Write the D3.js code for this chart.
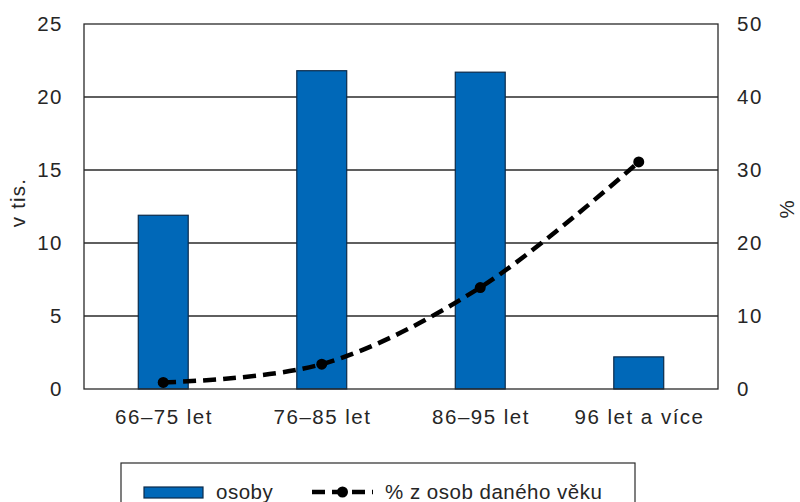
<!DOCTYPE html>
<html>
<head>
<meta charset="utf-8">
<script src="https://cdn.jsdelivr.net/npm/d3@7"></script>
<style>
  body { margin: 0; background: #fff; }
  text { font-family: "Liberation Sans", Arial, sans-serif; fill: #262626; }
</style>
</head>
<body>
<div id="wrapper"></div>
<script>
const categories = ["66–75 let", "76–85 let", "86–95 let", "96 let a více"];
const osoby = [11.9, 21.8, 21.7, 2.2];
const procenta = [0.9, 3.4, 13.9, 31.1];
const leftTicks = [0, 5, 10, 15, 20, 25];
const rightTicks = [0, 10, 20, 30, 40, 50];

function chart() {
  const fontSize = "20.5px";
  let dimensions = {
    width: 800,
    height: 502,
    margin: { top: 24, left: 84, bottom: 113, right: 82 }
  };
  dimensions.boundedWidth = dimensions.width - dimensions.margin.left - dimensions.margin.right;
  dimensions.boundedHeight = dimensions.height - dimensions.margin.top - dimensions.margin.bottom;

  const wrapper = d3.select("#wrapper").append("svg")
    .attr("width", dimensions.width)
    .attr("height", dimensions.height);
  const container = wrapper.append("g")
    .attr("transform", `translate(${dimensions.margin.left},${dimensions.margin.top})`);

  const xScale = d3.scaleBand()
    .domain(categories)
    .range([0, dimensions.boundedWidth])
    .padding(0);
  const barW = xScale.bandwidth() * 0.315;

  const yLeft = d3.scaleLinear().domain([0, 25]).range([dimensions.boundedHeight, 0]);
  const yRight = d3.scaleLinear().domain([0, 50]).range([dimensions.boundedHeight, 0]);

  // grid
  container.append("g")
    .selectAll("line")
    .data(leftTicks.slice(1, -1))
    .enter().append("line")
    .attr("x1", 0).attr("x2", dimensions.boundedWidth)
    .attr("y1", d => yLeft(d)).attr("y2", d => yLeft(d))
    .attr("stroke", "#2a2a2a").attr("stroke-width", 1.3);

  // bars
  container.selectAll("rect.bar")
    .data(osoby)
    .enter().append("rect")
    .attr("class", "bar")
    .attr("x", (d, i) => xScale(categories[i]) + xScale.bandwidth() / 2 - barW / 2)
    .attr("y", d => yLeft(d))
    .attr("width", barW)
    .attr("height", d => dimensions.boundedHeight - yLeft(d))
    .attr("fill", "#0068b8")
    .attr("stroke", "#0b2a4a")
    .attr("stroke-width", 1.2);

  // plot frame
  container.append("rect")
    .attr("x", 0).attr("y", 0)
    .attr("width", dimensions.boundedWidth).attr("height", dimensions.boundedHeight)
    .attr("fill", "none").attr("stroke", "#2a2a2a").attr("stroke-width", 1.3);

  // line
  const lineGen = d3.line()
    .x((d, i) => xScale(categories[i]) + xScale.bandwidth() / 2)
    .y(d => yRight(d))
    .curve(d3.curveCatmullRom.alpha(0.5));
  container.append("path")
    .datum(procenta)
    .attr("d", lineGen)
    .attr("fill", "none")
    .attr("stroke", "#000")
    .attr("stroke-width", 4.5)
    .attr("stroke-dasharray", "13,7");
  container.selectAll("circle")
    .data(procenta)
    .enter().append("circle")
    .attr("cx", (d, i) => xScale(categories[i]) + xScale.bandwidth() / 2)
    .attr("cy", d => yRight(d))
    .attr("r", 5.5)
    .attr("fill", "#000");

  // axes
  const leftAxis = container.append("g")
    .call(d3.axisLeft(yLeft).tickValues(leftTicks).tickSize(0).tickPadding(21));
  const rightAxis = container.append("g")
    .attr("transform", `translate(${dimensions.boundedWidth},0)`)
    .call(d3.axisRight(yRight).tickValues(rightTicks).tickSize(0).tickPadding(19));
  const bottomAxis = container.append("g")
    .attr("transform", `translate(0,${dimensions.boundedHeight})`)
    .call(d3.axisBottom(xScale).tickSize(0).tickPadding(20));
  [leftAxis, rightAxis, bottomAxis].forEach(a => {
    a.select(".domain").remove();
    a.selectAll("text").style("font-size", fontSize).attr("fill", "#262626")
      .style("letter-spacing", "1.5px")
      .style("font-family", "'Liberation Sans', Arial, sans-serif");
  });
  // keep the centred labels centred despite trailing letter spacing
  bottomAxis.selectAll("text").attr("dx", "0.75");

  // axis titles
  wrapper.append("text")
    .attr("transform", `translate(25,${dimensions.margin.top + dimensions.boundedHeight / 2 - 4}) rotate(-90)`)
    .attr("text-anchor", "middle")
    .style("font-size", fontSize)
    .style("letter-spacing", "1.2px")
    .text("v tis.");
  wrapper.append("text")
    .attr("transform", `translate(794,${dimensions.margin.top + dimensions.boundedHeight / 2 + 3}) rotate(-90)`)
    .attr("text-anchor", "middle")
    .style("font-size", fontSize)
    .text("%");

  // legend
  const legend = wrapper.append("g");
  legend.append("rect")
    .attr("x", 121).attr("y", 463).attr("width", 514).attr("height", 45)
    .attr("fill", "#fff").attr("stroke", "#2a2a2a").attr("stroke-width", 1.2);
  legend.append("rect")
    .attr("x", 144).attr("y", 487).attr("width", 59).attr("height", 11)
    .attr("fill", "#0068b8").attr("stroke", "#0b2a4a").attr("stroke-width", 1.2);
  legend.append("text")
    .attr("x", 216).attr("y", 499)
    .style("font-size", fontSize)
    .style("letter-spacing", "0.5px")
    .text("osoby");
  legend.append("line")
    .attr("x1", 312).attr("x2", 373).attr("y1", 492).attr("y2", 492)
    .attr("stroke", "#000").attr("stroke-width", 4.5)
    .attr("stroke-dasharray", "13,7");
  legend.append("circle")
    .attr("cx", 342.5).attr("cy", 492).attr("r", 5.5).attr("fill", "#000");
  legend.append("text")
    .attr("x", 385).attr("y", 499)
    .style("font-size", fontSize)
    .style("letter-spacing", "0.5px")
    .text("% z osob daného věku");
}

chart();
</script>
</body>
</html>
